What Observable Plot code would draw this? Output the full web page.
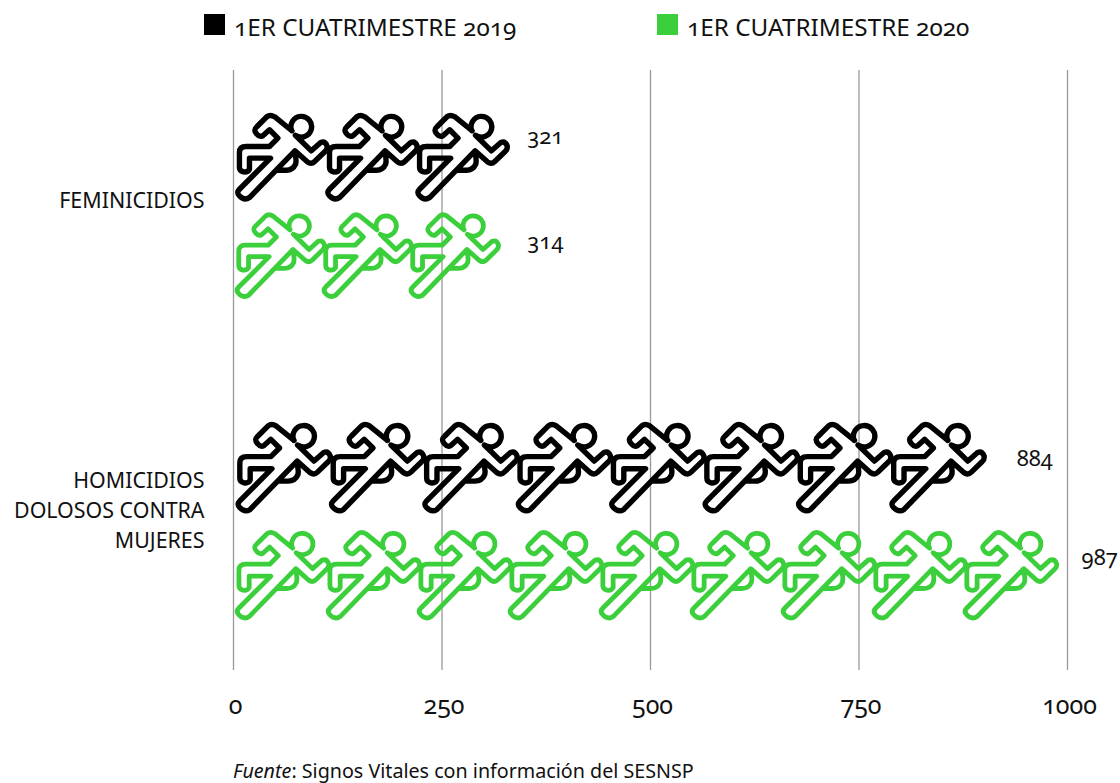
<!DOCTYPE html>
<html><head><meta charset="utf-8">
<script src="https://cdn.jsdelivr.net/npm/d3@7"></script>
<script src="https://cdn.jsdelivr.net/npm/@observablehq/plot@0.6"></script>
<style>
html,body{margin:0;padding:0;background:#fff;overflow:hidden}
body{width:1120px;height:783px;position:relative;font-family:"Noto Sans",sans-serif;font-variant-numeric:oldstyle-nums;color:#111}
#legend{height:70px;position:relative}
.k{position:absolute;top:14px;width:21px;height:21px}
.t{position:absolute;top:12px;font-size:24.3px;line-height:30px;white-space:nowrap}
#cap{position:absolute;left:233px;top:759px;font-size:19.7px;line-height:24px;white-space:nowrap}
svg{display:block;font-variant-numeric:oldstyle-nums}
</style></head><body>
<div id="legend"></div><div id="chart"></div><div id="cap"><i>Fuente</i>: Signos Vitales con información del SESNSP</div>
<script>
const seriesNames = ["1ER CUATRIMESTRE 2019", "1ER CUATRIMESTRE 2020"];
const seriesColors = ["#000000", "#3ccf3c"];
const categories = ["FEMINICIDIOS", "HOMICIDIOS\nDOLOSOS CONTRA\nMUJERES"];
const values2019 = [321, 884];
const values2020 = [314, 987];
const icons2019 = [3, 8];
const icons2020 = [3, 9];
// how much of the x axis one pictogram occupies
const iconUnits2019 = [108, 112];
const iconUnits2020 = [104.3, 109.1];
const xTicks = [0, 250, 500, 750, 1000];
// row order: category, then series; a blank row separates the categories
const rowIndex = [[0, 1], [3, 4]];
// fine placement of each row: [icon dy, label dx, label dy]
const rowNudge = [[0, 44, -21], [-6, 50, -20], [-3, 64, -12], [0, 43, -18]];

const rows = [];
categories.forEach((c, ci) => {
  rows.push({cat: c, s: 0, value: values2019[ci], n: icons2019[ci], u: iconUnits2019[ci], row: rowIndex[ci][0]});
  rows.push({cat: c, s: 1, value: values2020[ci], n: icons2020[ci], u: iconUnits2020[ci], row: rowIndex[ci][1]});
});

const runner = {
  draw(c, size) {
    const r = Math.sqrt(size / Math.PI), k = r / 267;
    const X = x => (x - 157) * k, Y = y => (y - 170) * k;
    const M = (x, y) => c.moveTo(X(x), Y(y));
    const L = (x, y) => c.lineTo(X(x), Y(y));
    const Q = (a, b, x, y) => c.quadraticCurveTo(X(a), Y(b), X(x), Y(y));
    M(197, 90);
    c.arc(X(225), Y(78), 31 * k, 157 * Math.PI / 180, 485 * Math.PI / 180);
    L(255, 150); L(283, 125); Q(296, 120, 302, 135); Q(304, 145, 296, 152);
    L(265, 182); Q(255, 192, 243, 183); L(206, 150);
    L(70, 290); Q(55, 300, 40, 285); Q(30, 275, 40, 265);
    L(133, 172); L(70, 172); L(70, 205); Q(65, 215, 52, 213); Q(40, 210, 40, 200);
    L(40, 155); Q(40, 137, 60, 137); L(130, 137); L(155, 112); L(130, 87);
    L(110, 105); Q(100, 110, 92, 100); Q(80, 88, 92, 78); L(122, 48); Q(132, 40, 145, 48);
    L(197, 90);
    M(204, 152); Q(212, 175, 208, 190); Q(200, 208, 180, 208); L(152, 208);
  }
};

const legend = document.getElementById("legend");
[[204, 234], [657, 687]].forEach(([a, b], i) => {
  legend.insertAdjacentHTML("beforeend",
    `<div class="k" style="left:${a}px;background:${seriesColors[i]}"></div><div class="t" style="left:${b}px">${seriesNames[i]}</div>`);
});

const font = {fontSize: 22, fill: "#111", fontVariant: "oldstyle-nums"};
const marks = [
  Plot.ruleX(xTicks, {stroke: "#999", strokeWidth: 1.3, strokeOpacity: 1}),
  Plot.axisX(xTicks, {tickSize: 0, tickPadding: 26, fontSize: 25, dx: 2, fontVariant: "oldstyle-nums", label: null, tickFormat: d => String(d), fill: "#111", stroke: "none"})
];
categories.forEach((c, i) => marks.push(Plot.text([c], {
  x: () => 0, y: () => i === 0 ? 0.5 : 3.5, text: d => d, dx: -29,
  textAnchor: "end", fontSize: 21.4, lineHeight: 1.4, fill: "#111",
  dy: i === 0 ? -11 : -15
})));
rows.forEach((d, i) => {
  const [idy, ldx, ldy] = rowNudge[i];
  marks.push(Plot.dot(d3.range(d.n), {
    x: j => (j + 0.5) * d.u, y: () => d.row, r: d.value / d.n * 0.834, symbol: runner,
    stroke: seriesColors[d.s], fill: "none", strokeWidth: d.s ? 4.8 : 5.4, strokeLinejoin: "round", strokeLinecap: "round", dy: idy
  }));
  marks.push(Plot.text([d], {x: "value", y: "row", text: e => String(e.value), dx: ldx, dy: ldy, ...font}));
});

document.getElementById("chart").append(Plot.plot({
  width: 1120, height: 660,
  marginLeft: 233, marginRight: 53, marginTop: 0, marginBottom: 60,
  style: {fontFamily: "'Noto Sans',sans-serif", background: "#fff", overflow: "visible"},
  x: {domain: [0, 1000]},
  y: {domain: [-0.8325, 4.909], reverse: true, axis: null},
  marks
}));
</script></body></html>
